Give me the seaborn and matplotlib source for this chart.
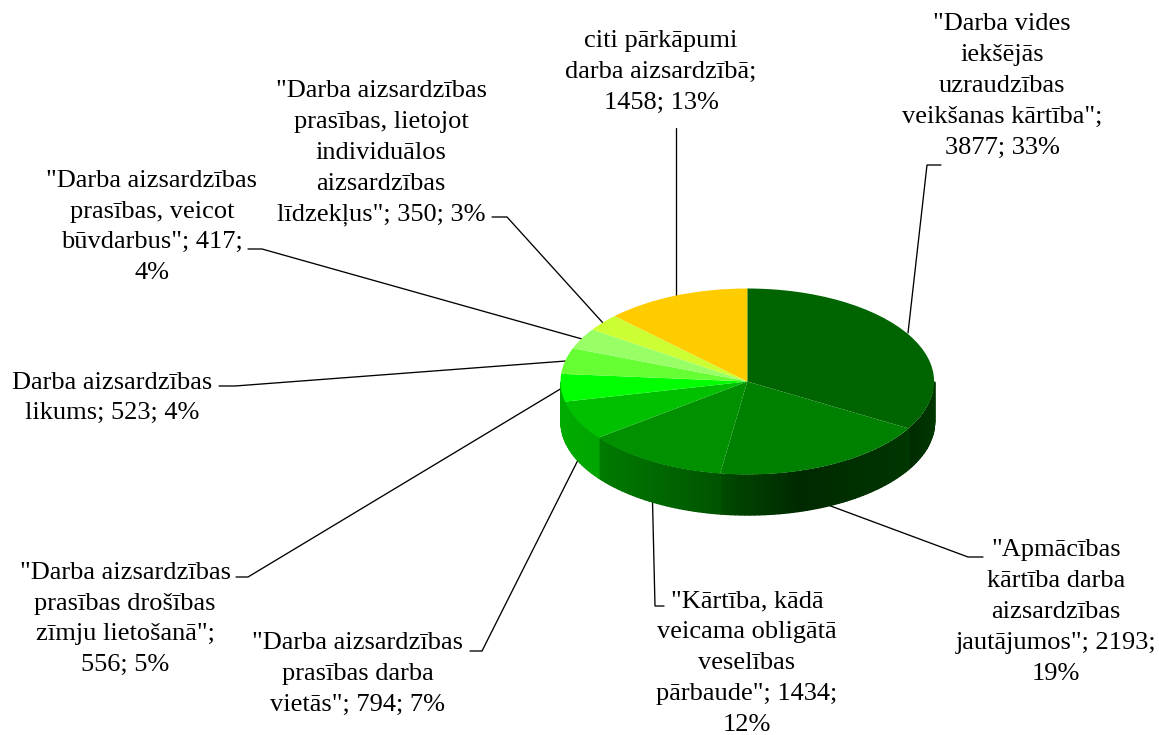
import numpy as np
import matplotlib
matplotlib.use("Agg")
import matplotlib.pyplot as plt
import seaborn as sns

values = [3877, 2193, 1434, 794, 556, 523, 417, 350, 1458]
hex_colors = ["#006400", "#008000", "#009000", "#00C000", "#00FF00",
              "#66FF33", "#99FF66", "#CCFF33", "#FFCC00"]
labels = [
    '"Darba vides\niekšējās\nuzraudzības\nveikšanas kārtība";\n3877; 33%',
    '"Apmācības\nkārtība darba\naizsardzības\njautājumos"; 2193;\n19%',
    '"Kārtība, kādā\nveicama obligātā\nveselības\npārbaude"; 1434;\n12%',
    '"Darba aizsardzības\nprasības darba\nvietās"; 794; 7%',
    '"Darba aizsardzības\nprasības drošības\nzīmju lietošanā";\n556; 5%',
    'Darba aizsardzības\nlikums; 523; 4%',
    '"Darba aizsardzības\nprasības, veicot\nbūvdarbus"; 417;\n4%',
    '"Darba aizsardzības\nprasības, lietojot\nindividuālos\naizsardzības\nlīdzekļus"; 350; 3%',
    'citi pārkāpumi\ndarba aizsardzībā;\n1458; 13%',
]

# layout (pixels of the 1159x735 canvas)
W, H = 1159, 735
label_xy = [(1002, 86), (1056, 612), (747, 663), (358, 674), (125, 619),
            (112, 398), (152, 227), (381, 153), (661, 72)]
leaders = [
    [(941, 165), (927, 165), (908, 333)],
    [(983, 557), (968, 557), (828, 505)],
    [(664, 606), (655, 606), (652.5, 501)],
    [(470, 651), (482, 651), (577.5, 461)],
    [(236, 577), (248, 577), (562, 388)],
    [(219, 386), (235, 386), (566, 361)],
    [(248, 249), (262, 249), (582, 339)],
    [(492, 217), (507, 217), (603, 323)],
    [(676, 128), (676, 296)],
]
CX, CY, RX, RY, DEPTH = 747.3, 381.5, 186.8, 93.0, 40.0

sns.set_theme(style="white")
plt.rcParams["font.family"] = ["Liberation Serif", "DejaVu Serif"]
palette = sns.color_palette(hex_colors)

fig = plt.figure(figsize=(W / 100, H / 100), dpi=100, facecolor="white")

# overlay in pixel coordinates: leaders and text
over = fig.add_axes([0, 0, 1, 1], zorder=1)
over.set_xlim(0, W)
over.set_ylim(H, 0)
over.axis("off")
for pts in leaders:
    xs, ys = zip(*pts)
    over.plot(xs, ys, color="black", lw=0.95, solid_joinstyle="miter")
for txt, (x, y) in zip(labels, label_xy):
    over.text(x, y, txt, ha="center", va="center", ma="center",
              fontsize=19.0, color="black", linespacing=1.52)

# pie: the axes box is exactly the top ellipse
ax = fig.add_axes([(CX - RX) / W, 1 - (CY + RY) / H, 2 * RX / W, 2 * RY / H], zorder=2)
ax.pie(values, colors=palette, startangle=90, counterclock=False, radius=1,
       wedgeprops=dict(linewidth=0, edgecolor="none"))
ax.set_aspect("auto")
ax.set_xlim(-1, 1)
ax.set_ylim(-1, 1)
ax.axis("off")

# side wall derived from the same values
fractions = np.array(values) / sum(values)
edges = 90 - 360 * np.concatenate([[0], np.cumsum(fractions)])
d = DEPTH / RY
shade_px = [561, 566, 566.1, 598, 721, 800, 908, 934]
shade_val = [0.67, 0.67, 0.89, 0.86, 0.58, 0.32, 0.42, 0.55]
for i, col in enumerate(palette):
    hi, lo = edges[i], edges[i + 1]          # descending angles, clockwise
    for shift in (0, 360):
        l2, h2 = max(lo + shift, -180), min(hi + shift, 0)
        if l2 >= h2:
            continue
        seg = np.unique(np.concatenate([np.arange(l2, h2, 1.5), [h2]]))
        for t0, t1 in zip(seg[:-1], seg[1:]):
            t = np.radians(np.linspace(t0, t1, 4))
            x, y = np.cos(t), np.sin(t)
            k = float(np.interp(CX + RX * x.mean(), shade_px, shade_val))
            c = tuple(v * k for v in col)
            ax.fill_between(x, y, y - d, facecolor=c, edgecolor=c, lw=1.0,
                            clip_on=False, zorder=0)

fig.savefig("out.png", dpi=100, facecolor="white")
